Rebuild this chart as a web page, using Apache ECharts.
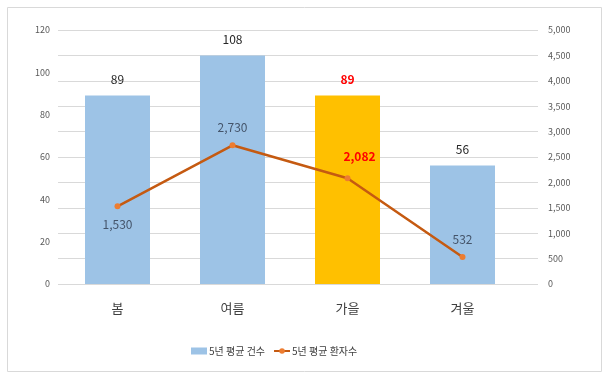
<!DOCTYPE html>
<html><head><meta charset="utf-8">
<script src="https://cdn.jsdelivr.net/npm/echarts@6/dist/echarts.min.js"></script>
<style>html,body{margin:0;padding:0;background:#fff}#c{width:606px;height:376px}</style>
</head><body><div id="c"></div>
<script>
const categories = ['봄', '여름', '가을', '겨울'];
const avgCases = [89, 108, 89, 56];
const avgPatients = [1530, 2730, 2082, 532];
const seriesNames = ['5년 평균 건수', '5년 평균 환자수'];
const highlightIndex = 2;

const font = '"Noto Sans CJK KR", "Noto Sans", sans-serif';
const fmt = v => Number(v).toLocaleString('en-US');
const chart = echarts.init(document.getElementById('c'));

const barData = avgCases.map((v, i) => i === highlightIndex ? {
  value: v,
  itemStyle: { color: '#FFC000' },
  label: { color: '#FF0000', fontWeight: 'bold' }
} : v);

const linePos = ['bottom', 'top', 'top', 'top'];
const lineData = avgPatients.map((v, i) => {
  const d = { value: v, label: { position: linePos[i] } };
  if (i === highlightIndex) {
    d.label = { position: 'top', color: '#FF0000', fontWeight: 'bold', offset: [12, -4] };
  }
  return d;
});

chart.setOption({
  animation: false,
  graphic: [{
    type: 'rect', left: 5, top: 5, shape: { width: 594, height: 364 },
    style: { fill: 'none', stroke: '#d9d9d9', lineWidth: 1 }, silent: true
  }],
  grid: [
    { left: 58, right: 68, top: 30, bottom: 92 },
    { left: 60, width: 460, top: 30, bottom: 92 }
  ],
  legend: {
    bottom: 15, left: 186, itemGap: 8, itemWidth: 16, itemHeight: 7,
    textStyle: { fontFamily: font, fontSize: 10, color: '#404040', padding: [0, 0, 0, -3] },
    data: [
      { name: seriesNames[0], icon: 'rect' },
      { name: seriesNames[1] }
    ]
  },
  xAxis: [
    { type: 'category', gridIndex: 0, data: categories, show: false },
    {
      type: 'category', gridIndex: 1, data: categories,
      axisLine: { show: false }, axisTick: { show: false },
      axisLabel: { fontFamily: font, fontSize: 13, color: '#404040', margin: 18 }
    }
  ],
  yAxis: [
    {
      type: 'value', gridIndex: 0, min: 0, max: 5000, interval: 500, position: 'right',
      axisLine: { show: false }, axisTick: { show: false },
      splitLine: { lineStyle: { color: '#d9d9d9', width: 1 } },
      axisLabel: { fontFamily: font, fontSize: 9, color: '#595959', margin: 10, formatter: fmt }
    },
    {
      type: 'value', gridIndex: 1, min: 0, max: 120, interval: 20, position: 'left',
      axisLine: { show: false }, axisTick: { show: false }, splitLine: { show: false },
      axisLabel: { fontFamily: font, fontSize: 9, color: '#595959', margin: 10 }
    },
    {
      type: 'value', gridIndex: 1, min: 0, max: 5000, interval: 500, position: 'right',
      show: false, splitLine: { show: false }
    }
  ],
  series: [
    {
      name: seriesNames[0], type: 'bar', xAxisIndex: 1, yAxisIndex: 1,
      data: barData, barWidth: 65, itemStyle: { color: '#9DC3E6' },
      label: {
        show: true, position: 'top', distance: 10,
        fontFamily: font, fontSize: 12, color: '#262626'
      },
      z: 2
    },
    {
      name: seriesNames[1], type: 'line', xAxisIndex: 1, yAxisIndex: 2,
      data: lineData, symbol: 'circle', symbolSize: 6,
      lineStyle: { color: '#C55A11', width: 2.5 },
      itemStyle: { color: '#ED7D31' },
      label: {
        show: true, distance: 9, formatter: p => fmt(p.value),
        fontFamily: font, fontSize: 12, color: '#44546A'
      },
      z: 3
    }
  ]
});
</script>
</body></html>
